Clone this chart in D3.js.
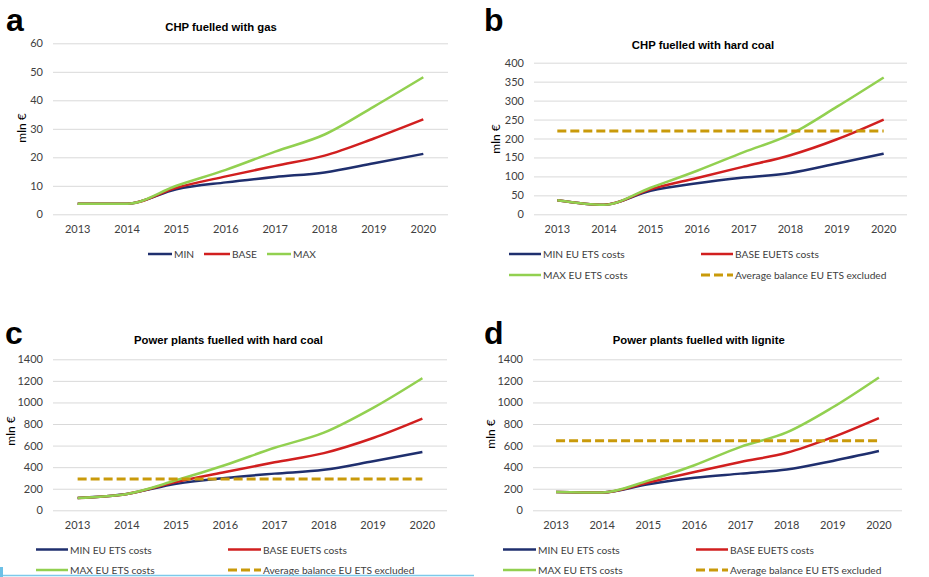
<!DOCTYPE html>
<html>
<head>
<meta charset="utf-8">
<script src="https://cdn.jsdelivr.net/npm/d3@7"></script>
<style>
  html, body { margin: 0; padding: 0; background: #ffffff; }
  svg { display: block; }
</style>
</head>
<body>
<svg id="chart" width="929" height="577"></svg>
<script>
// Years on the horizontal axis
const years = ["2013", "2014", "2015", "2016", "2017", "2018", "2019", "2020"];

// a: CHP fuelled with gas (mln €)
const gasMin  = [3.7, 3.7, 8.8, 11.2, 13.1, 14.7, 17.9, 21.2];
const gasBase = [3.7, 3.7, 9.3, 13.3, 17.0, 20.6, 26.6, 33.3];
const gasMax  = [3.7, 3.7, 10.0, 15.6, 22.0, 28.0, 37.8, 48.1];
const gasTicks = [0, 10, 20, 30, 40, 50, 60];

// b: CHP fuelled with hard coal (mln €)
const chpCoalMin  = [37, 25, 62, 82, 97, 109, 134, 160];
const chpCoalBase = [37, 25, 66, 96, 126, 156, 198, 250];
const chpCoalMax  = [37, 25, 70, 115, 164, 211, 284, 361];
const chpCoalAvg  = [220, 220, 220, 220, 220, 220, 220, 220];
const chpCoalTicks = [0, 50, 100, 150, 200, 250, 300, 350, 400];

// c: Power plants fuelled with hard coal (mln €)
const ppCoalMin  = [115, 152, 245, 300, 340, 375, 455, 540];
const ppCoalBase = [115, 152, 262, 355, 445, 530, 670, 850];
const ppCoalMax  = [115, 152, 278, 420, 580, 720, 950, 1225];
const ppCoalAvg  = [290, 290, 290, 290, 290, 290, 290, 290];
const ppTicks = [0, 200, 400, 600, 800, 1000, 1200, 1400];

// d: Power plants fuelled with lignite (mln €)
const ligniteMin  = [170, 165, 242, 302, 340, 378, 458, 550];
const ligniteBase = [170, 165, 258, 355, 448, 533, 678, 855];
const ligniteMax  = [170, 165, 275, 418, 588, 722, 955, 1232];
const ligniteAvg  = [645, 645, 645, 645, 645, 645, 645, 645];

// Series names
const gasNames = ["MIN", "BASE", "MAX"];
const etsNames = ["MIN EU ETS costs", "BASE EUETS costs", "MAX EU ETS costs", "Average balance EU ETS excluded"];

const COLORS = { min: "#1f2f6e", base: "#d11f1f", max: "#92d050", avg: "#c99a0a" };
const TEXT_FONT = "Lato, 'Open Sans', sans-serif";
const TITLE_FONT = "'Liberation Sans', Arial, sans-serif";

const svg = d3.select("#chart");

function drawPanel(p) {
  const g = svg.append("g");

  const x = d3.scaleBand().domain(years).range([p.left, p.right]);
  const y = d3.scaleLinear().domain([0, p.ticks[p.ticks.length - 1]]).range([p.bottom, p.top]);

  // Horizontal gridlines and value labels
  const yAxis = g.append("g")
    .attr("transform", `translate(${p.left},0)`)
    .call(d3.axisLeft(y).tickValues(p.ticks).tickSize(-(p.right - p.left)).tickPadding(10).tickFormat(d3.format("d")));
  yAxis.select(".domain").remove();
  yAxis.selectAll(".tick line").attr("stroke", "#d9d9d9").attr("stroke-width", 1);
  yAxis.selectAll(".tick text")
    .attr("fill", "#404040").attr("font-family", TEXT_FONT).attr("font-size", 11);

  // Year labels
  const xAxis = g.append("g")
    .attr("transform", `translate(0,${p.bottom})`)
    .call(d3.axisBottom(x).tickSize(0).tickPadding(11));
  xAxis.select(".domain").remove();
  xAxis.selectAll(".tick text")
    .attr("fill", "#404040").attr("font-family", TEXT_FONT).attr("font-size", 11);

  // Series lines
  const line = d3.line()
    .x((d, i) => x(years[i]) + x.bandwidth() / 2)
    .y(d => y(d))
    .curve(d3.curveMonotoneX);

  p.series.forEach(s => {
    g.append("path")
      .datum(s.values)
      .attr("fill", "none")
      .attr("stroke", s.color)
      .attr("stroke-width", s.dashed ? 3 : 2.5)
      .attr("stroke-dasharray", s.dashed ? "9,4" : null)
      .attr("stroke-linejoin", "round")
      .attr("d", line);
  });

  // Chart title
  g.append("text")
    .attr("x", p.titleX).attr("y", p.titleY)
    .attr("text-anchor", "middle")
    .attr("font-family", TITLE_FONT).attr("font-weight", "bold").attr("font-size", 11.3)
    .attr("fill", "#000")
    .text(p.title);

  // Panel letter
  g.append("text")
    .attr("x", p.letterX).attr("y", p.letterY)
    .attr("font-family", TITLE_FONT).attr("font-weight", "bold").attr("font-size", 32)
    .attr("fill", "#000")
    .text(p.letter);

  // Axis title
  g.append("text")
    .attr("transform", `translate(${p.yLabelX},${p.yLabelY}) rotate(-90)`)
    .attr("text-anchor", "middle")
    .attr("font-family", TEXT_FONT).attr("font-size", 12)
    .attr("fill", "#000")
    .text("mln €");

  // Legend
  p.legend.forEach(item => {
    const s = p.series[item.idx];
    g.append("line")
      .attr("x1", item.x1).attr("x2", item.x2)
      .attr("y1", item.y).attr("y2", item.y)
      .attr("stroke", s.color)
      .attr("stroke-width", s.dashed ? 3 : 2.5)
      .attr("stroke-dasharray", s.dashed ? "9,4" : null);
    g.append("text")
      .attr("x", item.x2 + 2).attr("y", item.y + 4)
      .attr("font-family", TEXT_FONT).attr("font-size", 10.2)
      .attr("fill", "#404040")
      .text(s.name);
  });
}

function etsSeries(minV, baseV, maxV, avgV) {
  return [
    { name: etsNames[0], values: minV, color: COLORS.min },
    { name: etsNames[1], values: baseV, color: COLORS.base },
    { name: etsNames[2], values: maxV, color: COLORS.max },
    { name: etsNames[3], values: avgV, color: COLORS.avg, dashed: true }
  ];
}

function etsLegend(c1, c2, row1, row2) {
  return [
    { idx: 0, x1: c1[0], x2: c1[1], y: row1 },
    { idx: 1, x1: c2[0], x2: c2[1], y: row1 },
    { idx: 2, x1: c1[0], x2: c1[1], y: row2 },
    { idx: 3, x1: c2[0], x2: c2[1], y: row2 }
  ];
}

drawPanel({
  letter: "a", letterX: 6, letterY: 31,
  title: "CHP fuelled with gas", titleX: 221, titleY: 31,
  left: 53, right: 448, top: 43.3, bottom: 214.3,
  ticks: gasTicks, yLabelX: 26, yLabelY: 128,
  series: [
    { name: gasNames[0], values: gasMin, color: COLORS.min },
    { name: gasNames[1], values: gasBase, color: COLORS.base },
    { name: gasNames[2], values: gasMax, color: COLORS.max }
  ],
  legend: [
    { idx: 0, x1: 148, x2: 172, y: 254 },
    { idx: 1, x1: 204, x2: 230, y: 254 },
    { idx: 2, x1: 267, x2: 291, y: 254 }
  ]
});

drawPanel({
  letter: "b", letterX: 484, letterY: 31,
  title: "CHP fuelled with hard coal", titleX: 703, titleY: 49,
  left: 534, right: 907, top: 62.7, bottom: 214.3,
  ticks: chpCoalTicks, yLabelX: 500, yLabelY: 139,
  series: etsSeries(chpCoalMin, chpCoalBase, chpCoalMax, chpCoalAvg),
  legend: etsLegend([509, 541], [701, 733], 254, 275)
});

drawPanel({
  letter: "c", letterX: 5, letterY: 344,
  title: "Power plants fuelled with hard coal", titleX: 228.5, titleY: 344,
  left: 53, right: 447, top: 359.3, bottom: 510.3,
  ticks: ppTicks, yLabelX: 15, yLabelY: 431,
  series: etsSeries(ppCoalMin, ppCoalBase, ppCoalMax, ppCoalAvg),
  legend: etsLegend([36, 68], [228, 261], 549.5, 570)
});

drawPanel({
  letter: "d", letterX: 484, letterY: 344,
  title: "Power plants fuelled with lignite", titleX: 698.7, titleY: 344,
  left: 533, right: 902, top: 359.3, bottom: 510.3,
  ticks: ppTicks, yLabelX: 495, yLabelY: 434,
  series: etsSeries(ligniteMin, ligniteBase, ligniteMax, ligniteAvg),
  legend: etsLegend([503, 536], [696, 728], 549.5, 570)
});

// Page edge rule at the bottom left
svg.append("line")
  .attr("x1", 0).attr("x2", 474).attr("y1", 575.5).attr("y2", 575.5)
  .attr("stroke", "#7cc9ea").attr("stroke-width", 1.5);
svg.append("rect")
  .attr("x", 0).attr("y", 567).attr("width", 3).attr("height", 10)
  .attr("fill", "#6cc0e6");
</script>
</body>
</html>
